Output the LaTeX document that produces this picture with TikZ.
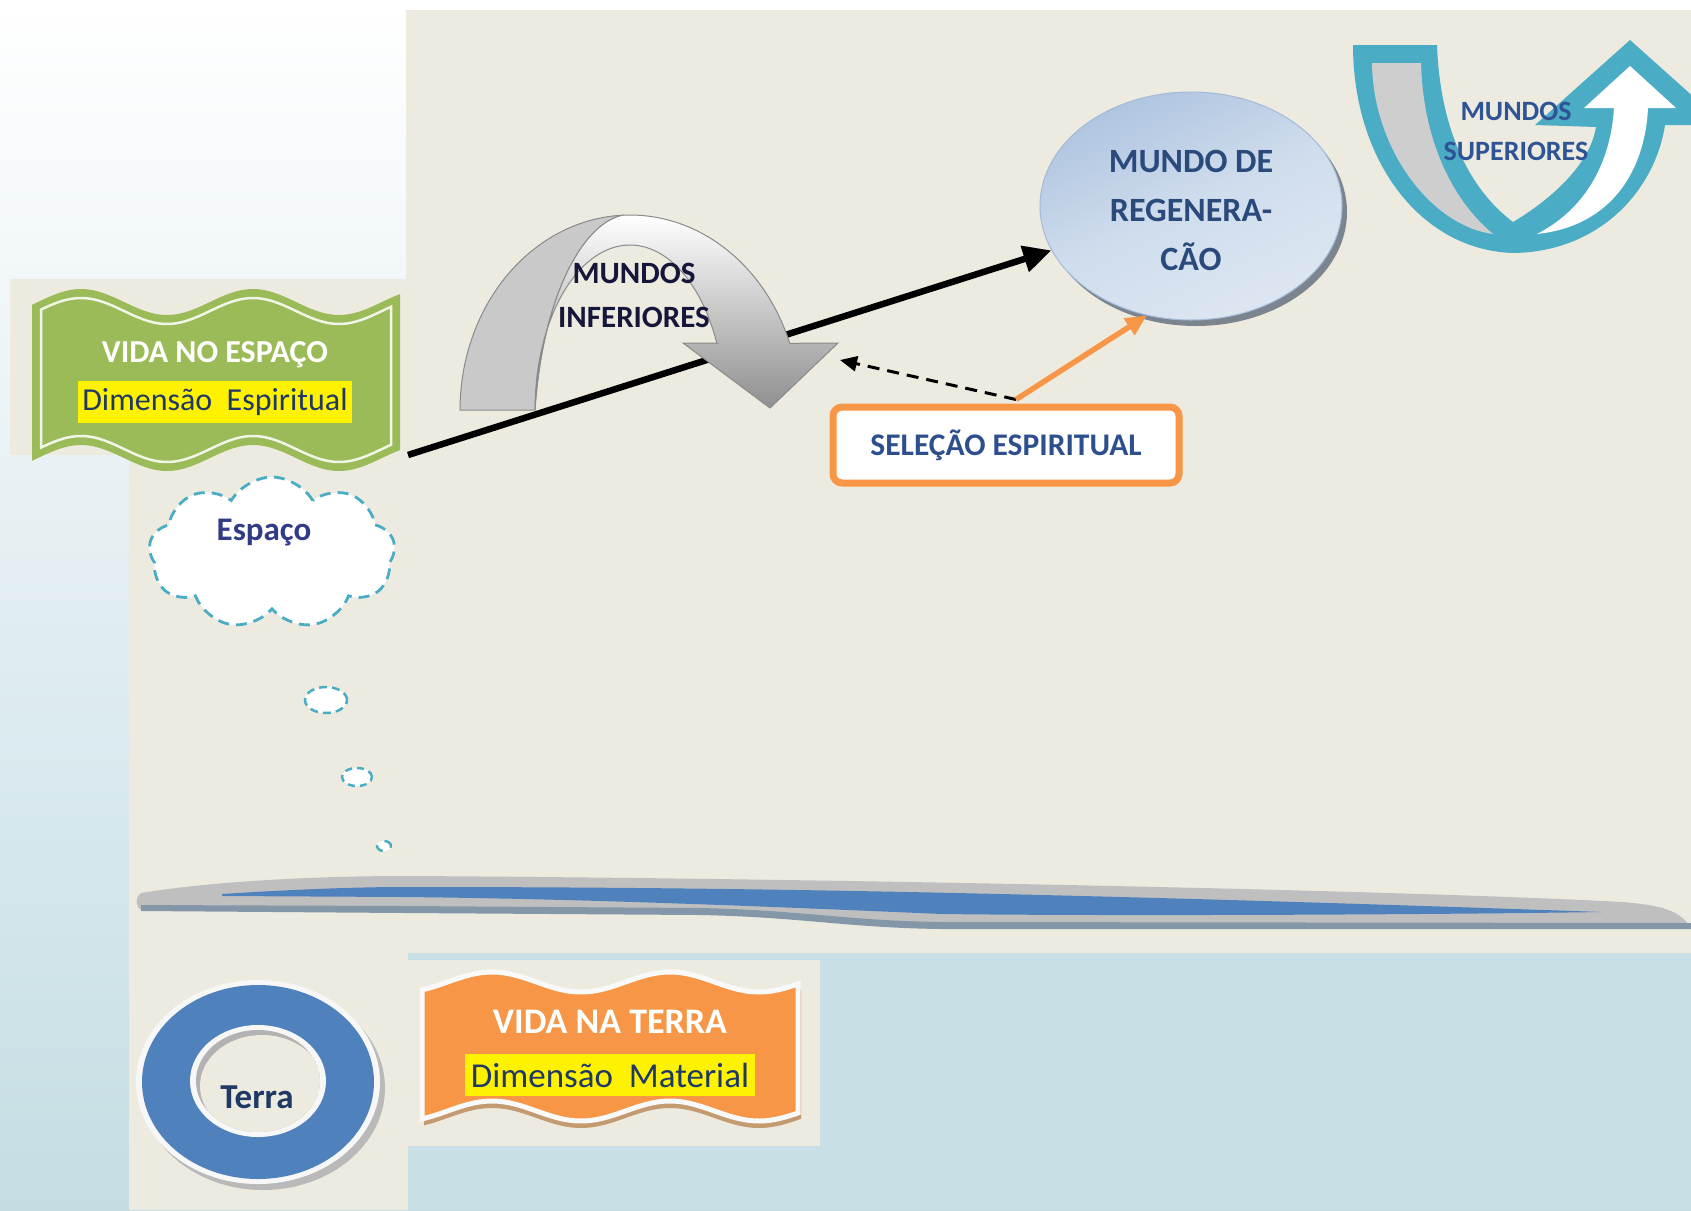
\documentclass[tikz,border=0pt]{standalone}
\usepackage{fontspec}
\setmainfont{Carlito}
\usetikzlibrary{shapes.symbols,shapes.geometric,shadows,arrows.meta,calc}
\definecolor{bgbeige}{HTML}{EDEBE0}
\definecolor{bgblue}{HTML}{C4DDE3}
\definecolor{lowblue}{HTML}{C8DFE5}
\definecolor{bannergreen}{HTML}{9BBB59}
\definecolor{bannerorange}{HTML}{F79646}
\definecolor{navytext}{HTML}{1F3864}
\definecolor{tealline}{HTML}{4BACC6}
\definecolor{ringblue}{HTML}{4F81BD}
\definecolor{bargray}{HTML}{BFBFBF}
\definecolor{bardark}{HTML}{8497A8}
\definecolor{backband}{HTML}{C9C9C9}
\definecolor{frontdark}{HTML}{8E8E8E}
\definecolor{arrowedge}{HTML}{8A8A8A}
\definecolor{regenA}{HTML}{AFC4E0}
\definecolor{regenB}{HTML}{DDE7F2}
\definecolor{regenline}{HTML}{A3BAD8}
\definecolor{regentext}{HTML}{2B4A7C}
\definecolor{suptext}{HTML}{2F5496}
\definecolor{seltext}{HTML}{2D4F8E}
\definecolor{esptext}{HTML}{323C86}
\definecolor{inftext}{HTML}{16163A}
\definecolor{shadowbrown}{HTML}{C49A70}
\newcommand{\myfs}[2]{\fontsize{#1}{#2}\selectfont}
\begin{document}
\begin{tikzpicture}[x=1pt,y=-1pt,
  lbl/.style={inner sep=0pt, align=center},
  dashcloud/.style={draw=tealline, line width=2.8pt, dash pattern=on 11pt off 7pt, fill=white},
  hilite/.style={lbl, fill=yellow, minimum height=42pt, text=navytext},
]
\useasboundingbox (0,0) rectangle (1691,1210);
% ---------- backgrounds
\shade[top color=white, bottom color=bgblue] (0,0) rectangle (1691,1210);
\fill[lowblue] (408,953) rectangle (1691,1210);
\fill[bgbeige] (406,10) rectangle (1691,953);
\fill[bgbeige] (10,279) rectangle (406,455);
\fill[bgbeige] (129,455) rectangle (408,1210);
\fill[bgbeige] (408,960) rectangle (820,1146);

% ---------- regeneration ellipse
\node[ellipse, minimum width=302pt, minimum height=228pt, inner sep=0pt,
      draw=regenline, line width=1pt, shading=axis, top color=regenA, bottom color=regenB,
      middle color=regenB!70!regenA, shading angle=25,
      drop shadow={shadow xshift=5pt, shadow yshift=-6pt, fill=black!45!regenA, opacity=0.8}]
      (regen) at (1191,206) {};
\node[lbl, text=regentext, font=\bfseries\myfs{34}{49}] (regentxt) at (1191,210)
      {MUNDO DE\\REGENERA-\\CÃO};

% ---------- main black arrow (behind curved arrow)
\coordinate (arrowstart) at (408,455);
\draw[line width=6.5pt, -{Triangle[length=28pt,width=26pt]}] (arrowstart) -- (regen);

% ---------- curved arrow "MUNDOS INFERIORES"
\filldraw[fill=backband, draw=arrowedge, line width=1pt]
  plot[domain=180:92, samples=50] ({630+170*cos(\x)},{410-195*sin(\x)})
  .. controls (582,222) and (542,300) .. (535,410) -- cycle;
\shadedraw[top color=white, bottom color=frontdark, draw=arrowedge, line width=1pt]
  plot[domain=92:20, samples=50] ({630+170*cos(\x)},{410-195*sin(\x)})
  -- (838,343) -- (770,408) -- (683,343) -- (717,343)
  -- plot[domain=24:180, samples=50] ({630+95*cos(\x)},{410-165*sin(\x)})
  .. controls (542,300) and (582,222) .. (624,215) -- cycle;
\coordinate (infhead) at (840,360);
\node[lbl, text=inftext, font=\bfseries\myfs{31}{44}] (inftxt) at (634,295) {MUNDOS\\INFERIORES};

% ---------- curved up arrow "MUNDOS SUPERIORES"
\fill[tealline] (1353,45) -- (1437,45) .. controls (1440,130) and (1470,190) .. (1513,222)
  .. controls (1550,200) and (1590,165) .. (1596,127) -- (1535,125) -- (1630,40) -- (1725,125)
  -- (1665,125) .. controls (1655,190) and (1600,252) .. (1513,253)
  .. controls (1420,250) and (1353,160) .. (1353,45) -- cycle;
\fill[backband!90!white] (1372,63) -- (1421,63) .. controls (1423,140) and (1452,200) .. (1493,234)
  .. controls (1432,226) and (1373,150) .. (1372,63) -- cycle;
\fill[white] (1537,234) .. controls (1580,212) and (1610,170) .. (1614,108) -- (1584,108)
  -- (1630,66) -- (1676,108) -- (1648,108) .. controls (1645,170) and (1612,226) .. (1537,234) -- cycle;
\node[lbl, text=suptext, font=\bfseries\myfs{28}{40}] (suptxt) at (1516,131) {MUNDOS\\SUPERIORES};

% ---------- green banner
\fill[bannergreen] plot[domain=32:400, samples=80] (\x,{302+13*cos(2.093*(\x-167))})
  -- plot[domain=400:32, samples=80] (\x,{458+13*cos(2.093*(\x-167))}) -- cycle;
\draw[white!85!bannergreen, line width=2.5pt] plot[domain=41:391, samples=80] (\x,{311+13*cos(2.093*(\x-167))})
  -- plot[domain=391:41, samples=80] (\x,{449+13*cos(2.093*(\x-167))}) -- cycle;
\node[lbl, text=white, font=\bfseries\myfs{32}{32}] (vidaesp) at (215,355) {VIDA NO ESPAÇO};
\node[hilite, minimum width=274pt, font=\myfs{32}{32}] (dimesp) at (215,402) {Dimensão\hspace{0.45em}Espiritual};

% ---------- thought cloud
\node[cloud, cloud puffs=9, cloud puff arc=120, aspect=1.6, minimum width=246pt, minimum height=152pt,
      inner sep=0pt, dashcloud] (cloud) at (272,553) {};
\node[lbl, text=esptext, font=\bfseries\myfs{33}{33}] (esptxt) at (264,533) {Espaço};
\node[ellipse, dashcloud, line width=2.5pt, dash pattern=on 8pt off 5pt, minimum width=42pt, minimum height=26pt, inner sep=0pt] (bub1) at (326,700) {};
\node[ellipse, dashcloud, line width=2.5pt, dash pattern=on 7pt off 5pt, minimum width=30pt, minimum height=18pt, inner sep=0pt] (bub2) at (357,777) {};
\node[ellipse, dashcloud, line width=2.5pt, dash pattern=on 9pt off 9pt, minimum width=14pt, minimum height=10pt, inner sep=0pt] (bub3) at (384,846) {};

% ---------- horizon bar
\fill[bargray] (141,893) .. controls (220,880) and (330,876) .. (404,876)
  .. controls (800,878) and (1400,890) .. (1622,902) .. controls (1660,905) and (1680,910) .. (1691,928)
  -- (942,928) .. controls (850,927) and (800,915) .. (700,913) -- (404,911) -- (141,910)
  .. controls (135,905) and (135,898) .. (141,893) -- cycle;
\fill[bardark] (141,905) -- (404,906) -- (700,908) .. controls (800,910) and (850,921) .. (942,922)
  -- (1691,923) -- (1691,929) -- (942,929) .. controls (850,928) and (800,917) .. (700,915)
  -- (404,913) -- (141,911) -- cycle;
\fill[ringblue] (222,894) .. controls (300,889) and (360,887) .. (404,887)
  .. controls (700,887) and (1000,891) .. (1602,912) .. controls (1400,915) and (1100,916) .. (942,914)
  .. controls (800,908) and (600,899) .. (404,897) -- (222,896) -- cycle;

% ---------- Terra ring
\fill[gray!55] (263,1088) ellipse [x radius=122, y radius=102];
\fill[white!94!gray] (258,1082) ellipse [x radius=122, y radius=102];
\fill[ringblue] (258,1082) ellipse [x radius=116, y radius=97];
\fill[white!94!gray] (258,1081) ellipse [x radius=68, y radius=56];
\begin{scope}
  \clip (258,1081) ellipse [x radius=62, y radius=51];
  \fill[gray!60] (258,1081) ellipse [x radius=62, y radius=51];
  \fill[bgbeige] (262,1086) ellipse [x radius=62, y radius=51];
\end{scope}
\node[lbl, text=navytext, font=\bfseries\myfs{35}{35}] (terra) at (257,1097) {Terra};

% ---------- orange banner
\fill[shadowbrown] plot[domain=424:801, samples=80] (\x,{989+10*cos(2.0225*(\x-581))})
  -- plot[domain=801:424, samples=80] (\x,{1118+10*cos(2.0225*(\x-581))}) -- cycle;
\filldraw[fill=bannerorange, draw=white!95!gray, line width=5pt]
  plot[domain=422:798, samples=80] (\x,{982+10*cos(2.0225*(\x-581))})
  -- plot[domain=798:422, samples=80] (\x,{1111+10*cos(2.0225*(\x-581))}) -- cycle;
\node[lbl, text=white, font=\bfseries\myfs{36}{36}] (vidaterra) at (610,1022) {VIDA NA TERRA};
\node[hilite, minimum width=290pt, font=\myfs{35}{35}] (dimmat) at (610,1075) {Dimensão\hspace{0.45em}Material};

% ---------- selection box and its arrows
\node[rectangle, rounded corners=9pt, draw=bannerorange, line width=7pt, fill=white,
      minimum width=346pt, minimum height=76pt, text=seltext, font=\bfseries\myfs{31.5}{31.5}] (sel) at (1006,445)
      {SELEÇÃO ESPIRITUAL};
\coordinate (selanchor) at ($(sel.north)+(10,-4)$);
\draw[line width=3pt, dash pattern=on 12pt off 8pt, -{Triangle[length=17pt,width=15pt]}] (selanchor) -- (infhead);
\draw[bannerorange, line width=5.5pt, -{Triangle[length=21pt,width=19pt]}] (selanchor) -- (regen.-112);
\end{tikzpicture}
\end{document}
